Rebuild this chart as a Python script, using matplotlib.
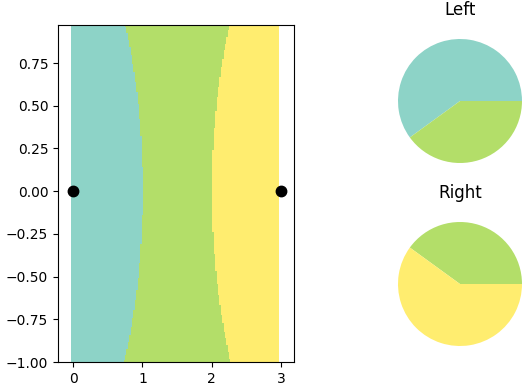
import numpy as np
import matplotlib
matplotlib.use("Agg")
import matplotlib.pyplot as plt
from matplotlib.colors import ListedColormap

# anchor points (black dots)
point_x = [0, 3]
point_y = [0, 0]

# region colours and the share cut levels between them
region_colors = ["#8dd3c7", "#b3de69", "#ffed6f"]
share_cuts = [1 / 3, 2 / 3]

# pie shares (teal, green, yellow)
pie_titles = ["Left", "Right"]
left_shares = [0.6, 0.4, 0.0]
right_shares = [0.0, 0.4, 0.6]

x_ticks = [0, 1, 2, 3]
y_ticks = [-1.0, -0.75, -0.5, -0.25, 0.0, 0.25, 0.5, 0.75]

# region map: share of distance to the left point
extent = (-0.035, 2.965, -1.0, 0.97)
nx, ny = 150, 200
xs = extent[0] + (np.arange(nx) + 0.5) * (extent[1] - extent[0]) / nx
ys = extent[2] + (np.arange(ny) + 0.5) * (extent[3] - extent[2]) / ny
X, Y = np.meshgrid(xs, ys)
d_left = np.hypot(X - point_x[0], Y - point_y[0])
d_right = np.hypot(X - point_x[1], Y - point_y[1])
share = d_left / (d_left + d_right)
regions = np.digitize(share, share_cuts)

W, H = 522, 386
fig = plt.figure(figsize=(W / 100, H / 100), dpi=100)

ax = fig.add_axes([58 / W, 24 / H, 236 / W, 337 / H])
ax.imshow(regions, origin="lower", extent=extent, aspect="auto",
          cmap=ListedColormap(region_colors), vmin=0, vmax=2,
          interpolation="nearest")
ax.plot(point_x, point_y, "o", color="black", markersize=7.5)
ax.set_xlim(-0.22, 3.19)
ax.set_ylim(-1.0, 0.973)
ax.set_xticks(x_ticks)
ax.set_yticks(y_ticks)

box = 155
for title, shares, cy in zip(pie_titles, [left_shares, right_shares], [101, 284]):
    pax = fig.add_axes([(460 - box / 2) / W, (H - cy - box / 2) / H, box / W, box / H])
    pax.pie(shares, colors=region_colors)
    pax.set_title(title)

fig.savefig("out.png", dpi=100)
